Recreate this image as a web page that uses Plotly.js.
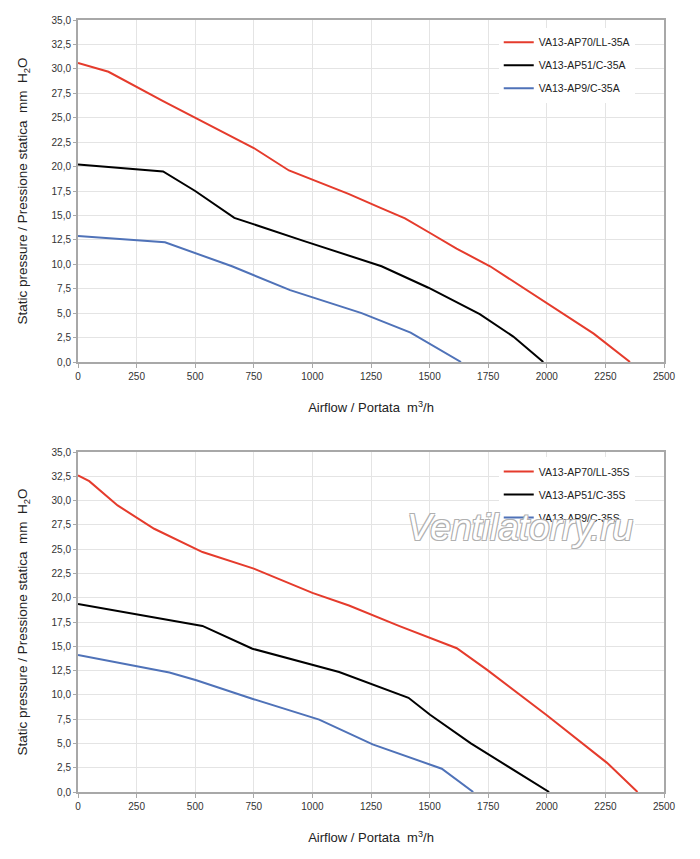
<!DOCTYPE html>
<html>
<head>
<meta charset="utf-8">
<script src="https://cdn.plot.ly/plotly-3.0.1.min.js"></script>
<style>html,body{margin:0;padding:0;background:#fff;}#chart{width:700px;height:859px;}</style>
</head>
<body>
<div id="chart"></div>
<script>
// ---- Data ----
// Top chart: 35A models
const topNames = ["VA13-AP70/LL-35A", "VA13-AP51/C-35A", "VA13-AP9/C-35A"];
const topRedX = [0, 130, 363, 500, 750, 900, 1154, 1288, 1395, 1502, 1615, 1758, 1980, 2200, 2355];
const topRedY = [30.6, 29.7, 26.7, 25.0, 21.9, 19.6, 17.2, 15.8, 14.7, 13.2, 11.6, 9.8, 6.3, 2.9, 0];
const topBlackX = [0, 363, 500, 667, 962, 1295, 1495, 1714, 1857, 1985];
const topBlackY = [20.2, 19.5, 17.5, 14.75, 12.4, 9.8, 7.6, 4.9, 2.6, 0];
const topBlueX = [0, 371, 657, 905, 1210, 1419, 1634];
const topBlueY = [12.9, 12.25, 9.8, 7.35, 5.0, 3.0, 0];

// Bottom chart: 35S models
const botNames = ["VA13-AP70/LL-35S", "VA13-AP51/C-35S", "VA13-AP9/C-35S"];
const botRedX = [0, 48, 169, 325, 531, 750, 1000, 1156, 1369, 1616, 1744, 2000, 2257, 2387];
const botRedY = [32.6, 32.0, 29.5, 27.1, 24.7, 23.0, 20.5, 19.2, 17.1, 14.8, 12.6, 7.9, 3.0, 0];
const botBlackX = [0, 531, 744, 1114, 1410, 1502, 1676, 2010];
const botBlackY = [19.35, 17.1, 14.75, 12.35, 9.7, 7.95, 5.0, 0];
const botBlueX = [0, 390, 505, 743, 1029, 1257, 1552, 1686];
const botBlueY = [14.1, 12.3, 11.5, 9.6, 7.45, 4.9, 2.4, 0];

const xTitle = "Airflow / Portata  m<sup>3</sup>/h";
const yTitle = "Static pressure / Pressione statica  mm  H<sub>2</sub>O";
const watermark = "Ventilatorry.ru";

// ---- Styles ----
const colors = ["#e53b2c", "#000000", "#4f72b8"];
const FONT = "Liberation Sans, Arial, sans-serif";

function line(x, y, name, i, xa, ya, leg) {
  return {
    x: x, y: y, name: name, type: "scatter", mode: "lines",
    line: {color: colors[i], width: 2},
    xaxis: xa, yaxis: ya, legend: leg, legendgroup: leg + i,
    hoverinfo: "skip"
  };
}

const data = [
  line(topRedX, topRedY, topNames[0], 0, "x", "y", "legend"),
  line(topBlackX, topBlackY, topNames[1], 1, "x", "y", "legend"),
  line(topBlueX, topBlueY, topNames[2], 2, "x", "y", "legend"),
  line(botRedX, botRedY, botNames[0], 0, "x2", "y2", "legend2"),
  line(botBlackX, botBlackY, botNames[1], 1, "x2", "y2", "legend2"),
  line(botBlueX, botBlueY, botNames[2], 2, "x2", "y2", "legend2")
];

function xaxis(anchor) {
  return {
    anchor: anchor, domain: [0, 1], range: [0, 2500], dtick: 250, tick0: 0,
    showgrid: true, gridcolor: "#e4e4e4", gridwidth: 1,
    showline: true, linecolor: "#a8a8a8", linewidth: 2, mirror: true,
    ticks: "outside", ticklen: 4, tickcolor: "#a8a8a8",
    tickfont: {family: FONT, size: 10, color: "#333"},
    zeroline: false, fixedrange: true,
    title: {text: xTitle, font: {family: FONT, size: 13, color: "#222"}, standoff: 22}
  };
}
function yaxis(anchor, dom) {
  return {
    anchor: anchor, domain: dom, range: [0, 35], dtick: 2.5, tick0: 0,
    tickformat: ".1f",
    showgrid: true, gridcolor: "#e4e4e4", gridwidth: 1,
    showline: true, linecolor: "#a8a8a8", linewidth: 2, mirror: true,
    ticks: "outside", ticklen: 3, tickcolor: "#a8a8a8",
    tickfont: {family: FONT, size: 10, color: "#333"},
    zeroline: false, fixedrange: true,
    title: {text: yTitle, font: {family: FONT, size: 13.5, color: "#222"}, standoff: 21}
  };
}
function legend(yTop) {
  return {
    x: 0.718, xanchor: "left", y: yTop, yanchor: "top",
    bgcolor: "#ffffff", borderwidth: 0,
    font: {family: FONT, size: 10.5, color: "#222"},
    tracegroupgap: 4, itemwidth: 30
  };
}

const layout = {
  width: 700, height: 859,
  margin: {l: 78, r: 36, t: 20, b: 67},
  paper_bgcolor: "#ffffff", plot_bgcolor: "#ffffff",
  separators: ",.",
  showlegend: true,
  xaxis: xaxis("y"),
  yaxis: yaxis("x", [0.557, 1]),
  xaxis2: xaxis("y2"),
  yaxis2: yaxis("x2", [0, 0.4404]),
  legend: legend(0.99),
  legend2: legend(0.434),
  annotations: [{
    text: watermark, xref: "paper", yref: "paper", x: 0.754, y: 0.342,
    xanchor: "center", yanchor: "middle", showarrow: false,
    font: {family: FONT, size: 37, color: "#ffffff", style: "italic",
           shadow: "-1px -1px 0 #b0b0b0, 1px -1px 0 #b0b0b0, -1px 1px 0 #b0b0b0, 1px 1px 0 #b0b0b0"}
  }]
};

Plotly.newPlot("chart", data, layout, {displayModeBar: false, staticPlot: true});
</script>
</body>
</html>
